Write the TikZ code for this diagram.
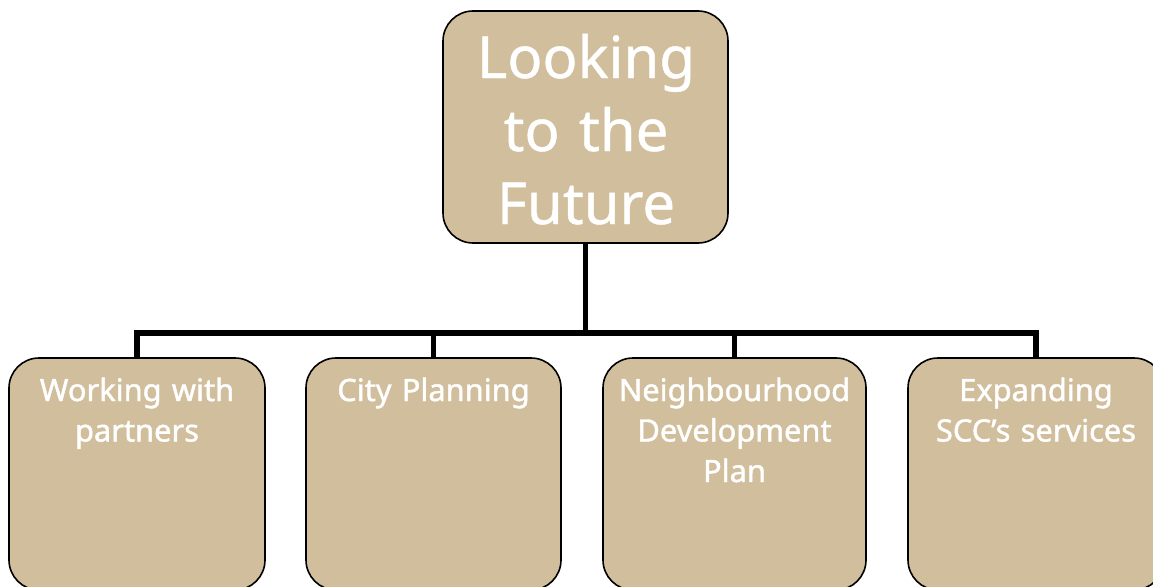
\documentclass[tikz,border=0pt]{standalone}
\usepackage{fontspec}
\setmainfont{Noto Sans}
\newfontfamily\subfont{Noto Sans}[FakeBold=1.4]
\newfontfamily\topfont{Noto Sans}[FakeBold=0.8]
\definecolor{tan}{HTML}{D1BE9C}
\begin{document}
\begin{tikzpicture}[x=1pt,y=-1pt,
  box/.style={draw=black,line width=1.6pt,fill=tan,rounded corners=30pt,inner sep=0pt},
  toptext/.style={text=white,align=center,text width=280pt,inner sep=0pt,anchor=base,
    font=\topfont\fontsize{58}{73}\selectfont},
  subtext/.style={text=white,align=center,text width=255pt,inner sep=0pt,anchor=base,
    font=\subfont\fontsize{30.8}{40.5}\selectfont},
  link/.style={line width=5.5pt,line join=miter}]
\useasboundingbox (0,0) rectangle (1153,586);
\node[box,minimum width=285pt,minimum height=232pt] (top) at (585.5,127) {};
\node[box,minimum width=256pt,minimum height=232pt] (b1) at (137,474) {};
\node[box,minimum width=255pt,minimum height=232pt] (b2) at (433.5,474) {};
\node[box,minimum width=263pt,minimum height=232pt] (b3) at (734.5,474) {};
\node[box,minimum width=256pt,minimum height=232pt] (b4) at (1036,474) {};
\coordinate (hub) at (585.5,333);
\foreach \b in {b1,b2,b3,b4}{\draw[link] (top.south) -- (hub) -| (\b.north);}
\node[toptext] (tt) at (586,78) {Looking\\to the\\Future};
\node[subtext] (t1) at (137,401) {Working with\\partners};
\node[subtext] (t2) at (433.5,401) {City Planning};
\node[subtext] (t3) at (734.5,401) {Neighbourhood\\Development\\Plan};
\node[subtext] (t4) at (1036,401) {Expanding\\SCC’s services};
\end{tikzpicture}
\end{document}
